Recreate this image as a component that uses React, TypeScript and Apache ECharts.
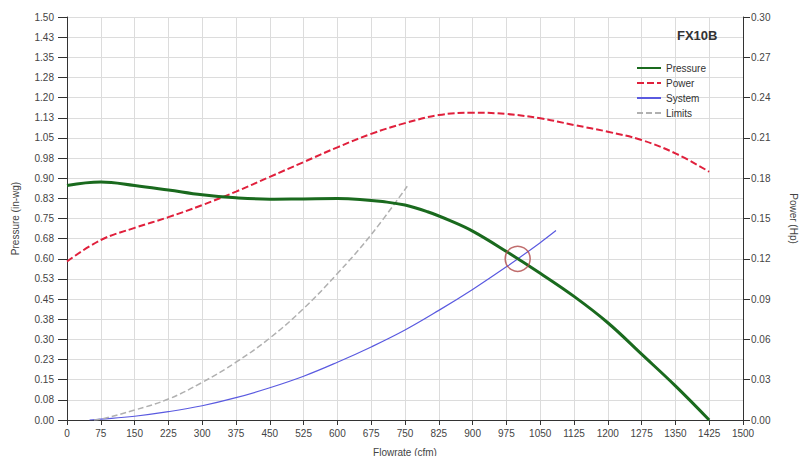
import React, { useEffect, useRef } from "react";
import * as echarts from "echarts";

const pressureFlow = [0, 75, 150, 225, 300, 375, 450, 525, 600, 650, 700, 750, 800, 850, 900, 975, 1050, 1125, 1200, 1275, 1350, 1425];
const pressureValues = [0.873, 0.886, 0.873, 0.856, 0.838, 0.827, 0.822, 0.823, 0.824, 0.821, 0.813, 0.8, 0.775, 0.742, 0.703, 0.627, 0.546, 0.46, 0.362, 0.245, 0.127, 0.0];

const powerFlow = [0, 75, 150, 225, 300, 375, 450, 525, 600, 675, 750, 825, 900, 975, 1050, 1125, 1200, 1275, 1350, 1425];
const powerValues = [0.118, 0.134, 0.143, 0.151, 0.16, 0.17, 0.181, 0.192, 0.203, 0.213, 0.221, 0.227, 0.2288, 0.2278, 0.2246, 0.2196, 0.2146, 0.2084, 0.1985, 0.1848];

const systemFlow = [50, 75, 150, 225, 300, 375, 450, 525, 600, 675, 750, 825, 900, 975, 1050, 1085];
const systemValues = [0, 0.003, 0.014, 0.031, 0.053, 0.083, 0.12, 0.163, 0.215, 0.272, 0.335, 0.408, 0.486, 0.57, 0.66, 0.705];

const limitsFlow = [60, 75, 150, 225, 300, 375, 450, 525, 600, 675, 755];
const limitsValues = [0, 0.003, 0.037, 0.078, 0.14, 0.215, 0.305, 0.415, 0.545, 0.69, 0.87];

const operatingPoint = [1000, 0.6];

const pressureTickLabels = ["0.00", "0.08", "0.15", "0.23", "0.30", "0.38", "0.45", "0.53", "0.60", "0.68", "0.75", "0.83", "0.90", "0.98", "1.05", "1.13", "1.20", "1.28", "1.35", "1.43", "1.50"];
const powerTickLabels = ["0.00", "0.03", "0.06", "0.09", "0.12", "0.15", "0.18", "0.21", "0.24", "0.27", "0.30"];

const seriesNames = ["Pressure", "Power", "System", "Limits"];

const pair = (xs: number[], ys: number[]) => xs.map((x, i) => [x, ys[i]]);

const FONT = 'Arial, "Liberation Sans", sans-serif';
const axisColor = "#333";
const labelColor = "#444";

export default function App() {
  const ref = useRef<HTMLDivElement>(null);
  useEffect(() => {
    const chart = echarts.init(ref.current!, null, { renderer: "svg" });
    chart.setOption({
      animation: false,
      backgroundColor: "#fff",
      textStyle: { fontFamily: FONT },
      title: {
        text: "FX10B",
        left: 677,
        top: 29,
        padding: 0,
        textStyle: { fontSize: 13, fontWeight: "bold", color: "#333", fontFamily: FONT },
      },
      legend: {
        data: seriesNames,
        orient: "vertical",
        left: 636,
        top: 63,
        padding: 0,
        itemWidth: 24,
        itemHeight: 10,
        itemGap: 5,
        itemStyle: { opacity: 0 },
        textStyle: { fontSize: 10, color: "#333", fontFamily: FONT },
      },
      grid: { left: 67, right: 57, top: 17, bottom: 36, containLabel: false, outerBoundsMode: "none" },
      xAxis: {
        type: "value",
        min: 0,
        max: 1500,
        interval: 75,
        name: "Flowrate (cfm)",
        nameLocation: "middle",
        nameGap: 27,
        nameTextStyle: { fontSize: 10, color: labelColor },
        axisLine: { show: true, lineStyle: { color: axisColor, width: 1 } },
        axisTick: { show: true, length: 5, lineStyle: { color: axisColor } },
        axisLabel: { fontSize: 10, color: labelColor, margin: 8, formatter: (v: number) => String(v) },
        splitLine: { show: true, lineStyle: { color: "#dcdcdc", width: 1 } },
      },
      yAxis: [
        {
          type: "value",
          min: 0,
          max: 1.5,
          interval: 0.075,
          name: "Pressure (in-wg)",
          nameLocation: "middle",
          nameGap: 47,
          nameTextStyle: { fontSize: 10, color: labelColor },
          axisLine: { show: true, lineStyle: { color: axisColor, width: 1 } },
          axisTick: { show: true, length: 9, lineStyle: { color: axisColor } },
          axisLabel: {
            fontSize: 10,
            color: labelColor,
            margin: 13,
            formatter: (v: number) => pressureTickLabels[Math.round(v / 0.075)] ?? "",
          },
          splitLine: { show: true, lineStyle: { color: "#dcdcdc", width: 1 } },
        },
        {
          type: "value",
          position: "right",
          min: 0,
          max: 0.3,
          interval: 0.03,
          name: "Power (Hp)",
          nameLocation: "middle",
          nameGap: 45,
          nameRotate: -90,
          nameTextStyle: { fontSize: 10, color: labelColor },
          axisLine: { show: true, lineStyle: { color: axisColor, width: 1 } },
          axisTick: { show: true, length: 7, lineStyle: { color: axisColor } },
          axisLabel: {
            fontSize: 10,
            color: labelColor,
            margin: 8,
            formatter: (v: number) => powerTickLabels[Math.round(v / 0.03)] ?? "",
          },
          splitLine: { show: false },
        },
      ],
      series: [
        {
          name: "Pressure",
          type: "line",
          yAxisIndex: 0,
          smooth: 0.4,
          symbol: "none",
          data: pair(pressureFlow, pressureValues),
          lineStyle: { color: "#1a6a1e", width: 3 },
          itemStyle: { color: "#1a6a1e" },
          z: 5,
        },
        {
          name: "Power",
          type: "line",
          yAxisIndex: 1,
          smooth: 0.4,
          symbol: "none",
          data: pair(powerFlow, powerValues),
          lineStyle: { color: "#e0203c", width: 2, type: [7, 3] },
          itemStyle: { color: "#e0203c" },
          z: 4,
        },
        {
          name: "System",
          type: "line",
          yAxisIndex: 0,
          smooth: 0.4,
          symbol: "none",
          data: pair(systemFlow, systemValues),
          lineStyle: { color: "#5a5ae0", width: 1.2 },
          itemStyle: { color: "#2a2ab0" },
          z: 3,
        },
        {
          name: "Limits",
          type: "line",
          yAxisIndex: 0,
          smooth: 0.4,
          symbol: "none",
          data: pair(limitsFlow, limitsValues),
          lineStyle: { color: "#b0b0b0", width: 1.5, type: [6, 3] },
          itemStyle: { color: "#a0a0a0" },
          z: 3,
        },
        {
          name: "Operating point",
          type: "scatter",
          yAxisIndex: 0,
          symbol: "circle",
          symbolSize: 25,
          data: [operatingPoint],
          itemStyle: { color: "rgba(0,0,0,0)", borderColor: "#b04848", borderWidth: 1.5 },
          z: 6,
        },
      ],
    });
    return () => chart.dispose();
  }, []);
  return (
    <div
      ref={ref}
      style={{ position: "absolute", left: 0, top: 0, width: 800, height: 456, background: "#fff" }}
    />
  );
}
